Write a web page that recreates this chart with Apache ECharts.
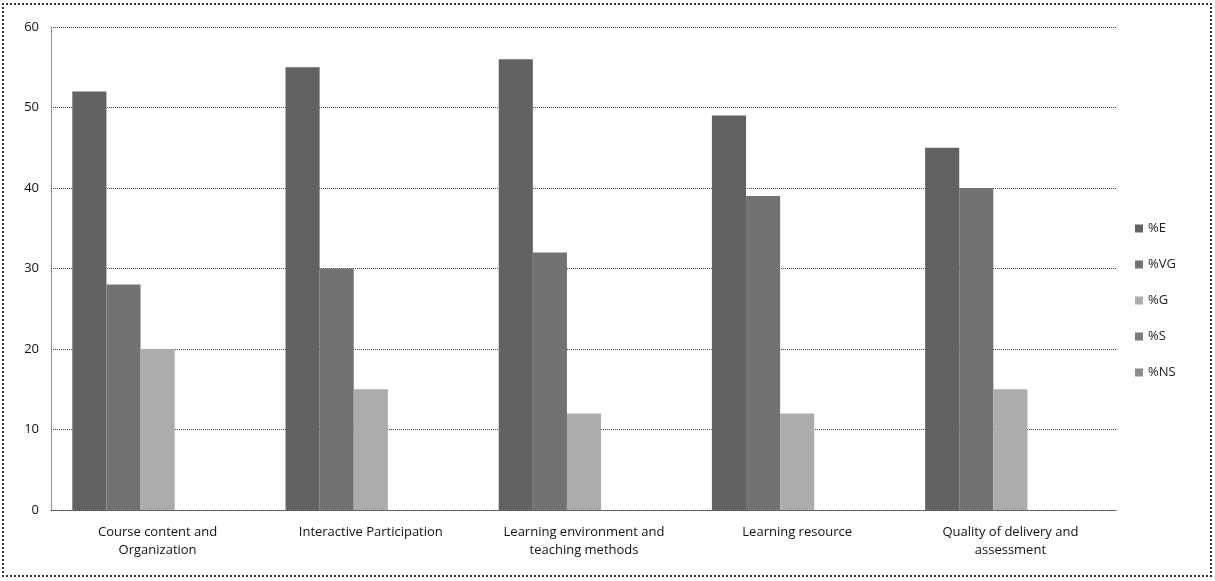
<!DOCTYPE html>
<html>
<head>
<meta charset="utf-8">
<script src="https://cdn.jsdelivr.net/npm/echarts@6/dist/echarts.min.js"></script>
<style>
  html, body { margin: 0; padding: 0; background: #fff; }
  #main { position: absolute; left: 2px; top: 3px; width: 1210px; height: 574px; border: 2px dotted #333; box-sizing: border-box; }
</style>
</head>
<body>
<div id="main"></div>
<script>
// categories and series values
var categories = [
    'Course content and\nOrganization',
    'Interactive Participation',
    'Learning environment and\nteaching methods',
    'Learning resource',
    'Quality of delivery and\nassessment'
];
var seriesNames = ['%E', '%VG', '%G', '%S', '%NS'];
var valE = [52, 55, 56, 49, 45];
var valVG = [28, 30, 32, 39, 40];
var valG = [20, 15, 12, 12, 15];
var valS = [0, 0, 0, 0, 0];
var valNS = [0, 0, 0, 0, 0];

var chart = echarts.init(document.getElementById('main'));
var colors = ['#626262', '#727272', '#acacac', '#7c7c7c', '#8c8c8c'];
var allValues = [valE, valVG, valG, valS, valNS];

var option = {
    animation: false,
    color: colors,
    textStyle: { fontFamily: 'Open Sans, Noto Sans, sans-serif' },
    grid: { left: 47, top: 22, right: 93, bottom: 65 },
    legend: {
        orient: 'vertical',
        left: 1126,
        top: 212,
        itemWidth: 8,
        itemHeight: 8,
        itemGap: 23,
        icon: 'rect',
        textStyle: { fontSize: 13, color: '#222' },
        data: seriesNames
    },
    xAxis: {
        type: 'category',
        data: categories,
        axisLine: { lineStyle: { color: '#444', type: 'dotted' } },
        axisTick: { show: false },
        axisLabel: { fontSize: 13, color: '#111', interval: 0, margin: 13, lineHeight: 18 }
    },
    yAxis: {
        type: 'value',
        min: 0,
        max: 60,
        interval: 10,
        axisLine: { show: true, lineStyle: { color: '#777', type: 'dotted' } },
        axisTick: { show: false },
        axisLabel: { fontSize: 13, color: '#111', margin: 12 },
        splitLine: { lineStyle: { color: '#444', type: 'dotted', width: 1 } }
    },
    series: seriesNames.map(function (name, i) {
        return {
            name: name,
            type: 'bar',
            data: allValues[i],
            barGap: '0%',
            barCategoryGap: '20%'
        };
    })
};
chart.setOption(option);
</script>
</body>
</html>
